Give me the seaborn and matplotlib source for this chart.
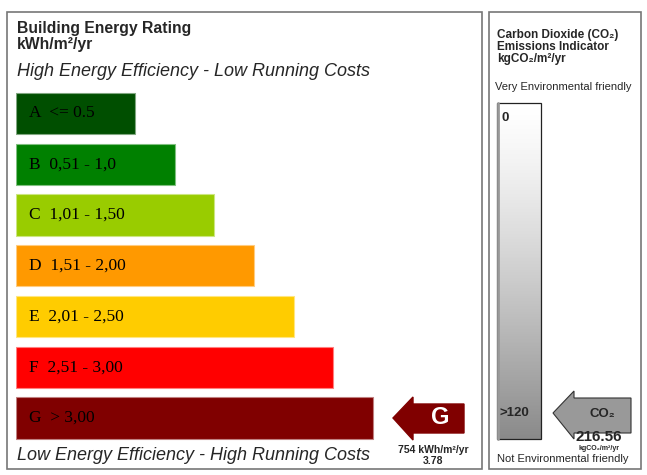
import matplotlib
matplotlib.use('Agg')
import matplotlib.pyplot as plt
from matplotlib.patches import Rectangle, Polygon
import seaborn as sns
import numpy as np
import pandas as pd

# 能效等级数据
grades = ['A', 'B', 'C', 'D', 'E', 'F', 'G']
ranges = ['<= 0.5', '0,51 - 1,0', '1,01 - 1,50', '1,51 - 2,00',
          '2,01 - 2,50', '2,51 - 3,00', '> 3,00']
bar_len = [3, 4, 5, 6, 7, 8, 9]
colors = ['#004f00', '#008000', '#99cc00', '#ff9900', '#ffcc00', '#ff0000', '#800000']

rating = 'G'
energy_text = '754 kWh/m²/yr'
energy_value = '3.78'
co2_value = '216.56'
co2_top = '0'
co2_bottom = '>120'

sns.set_theme(style='white')
plt.rcParams['font.family'] = ['Liberation Sans', 'DejaVu Sans']

W, H = 647, 475
fig = plt.figure(figsize=(W / 100, H / 100), dpi=100)
fig.patch.set_facecolor('white')

# 覆盖层：像素坐标
ov = fig.add_axes([0, 0, 1, 1])
ov.set_xlim(0, W)
ov.set_ylim(H, 0)
ov.axis('off')

# 等级条形图
px_unit = 39.67
ax_left, ax_right = 16, 482
ax_top, ax_bot = 88.1, 443.4
ax = fig.add_axes([ax_left / W, 1 - ax_bot / H, (ax_right - ax_left) / W, (ax_bot - ax_top) / H])
df = pd.DataFrame({'grade': grades, 'len': bar_len})
sns.barplot(data=df, x='len', y='grade', hue='grade', palette=colors, legend=False,
            orient='h', width=0.81, ax=ax, saturation=1, linewidth=0.8)
for p, c in zip(ax.patches, colors):
    p.set_edgecolor(sns.blend_palette([c, '#ffffff'], 3)[1])
ax.set_xlim(0, (ax_right - ax_left) / px_unit)
ax.set_ylim(6.5, -0.5)
ax.axis('off')
ax.patch.set_alpha(0)
for i, (g, r) in enumerate(zip(grades, ranges)):
    ax.text(0.33, i, f'{g}  {r}', va='center', ha='left', fontsize=12.5,
            family='Liberation Serif', color='black')

# 面板边框
ov.add_patch(Rectangle((7, 12), 475, 457, fill=False, edgecolor='#777777', lw=1.2))
ov.add_patch(Rectangle((489, 12), 152, 457, fill=False, edgecolor='#777777', lw=1.2))

# 左侧标题
ov.text(17, 28, 'Building Energy Rating', fontsize=11.3, fontweight='bold', va='center')
ov.text(17, 45, 'kWh/m²/yr', fontsize=11.3, fontweight='bold', va='center')
ov.text(17, 72, 'High Energy Efficiency - Low Running Costs', fontsize=13,
        style='italic', va='center')
ov.text(17, 456, 'Low Energy Efficiency - High Running Costs', fontsize=13,
        style='italic', va='center')

# 等级箭头
g_idx = grades.index(rating)
ov.add_patch(Polygon([(393, 418), (413, 397), (413, 404), (464, 404), (464, 433),
                      (413, 433), (413, 440)], closed=True,
                     facecolor=colors[g_idx], edgecolor=colors[g_idx]))
ov.text(440, 418, rating, color='white', fontsize=17, fontweight='bold',
        ha='center', va='center')
ov.text(433, 450, energy_text, fontsize=7.5, fontweight='bold', ha='center', va='center')
ov.text(433, 461, energy_value, fontsize=7.5, fontweight='bold', ha='center', va='center')

# 右侧 CO2 面板
ov.text(497, 35, 'Carbon Dioxide (CO₂)', fontsize=8.5, fontweight='bold', va='center')
ov.text(497, 47, 'Emissions Indicator', fontsize=8.5, fontweight='bold', va='center')
ov.text(497, 59, 'kgCO₂/m²/yr', fontsize=8.5, fontweight='bold', va='center')
ov.text(563, 87, 'Very Environmental friendly', fontsize=8, ha='center', va='center')

grad = np.linspace(0, 1, 256).reshape(-1, 1) ** 1.3
ov.imshow(grad, cmap=sns.blend_palette(['#ffffff', '#8a8a8a'], as_cmap=True),
          extent=[497, 541, 439, 103], aspect='auto', zorder=1)
ov.add_patch(Rectangle((497, 103), 44, 336, fill=False, edgecolor='#222222', lw=0.9, zorder=2))
ov.plot([497.5, 497.5], [103, 439], color='#999999', lw=2, zorder=3)
ov.text(502, 118, co2_top, fontsize=9.5, fontweight='bold', va='center', zorder=4)
ov.text(499, 413, co2_bottom, fontsize=9.5, fontweight='bold', va='center', zorder=4)

ov.add_patch(Polygon([(553, 413), (574, 391), (574, 398), (631, 398), (631, 433),
                      (574, 433), (574, 439)], closed=True,
                     facecolor='#999999', edgecolor='#333333', lw=0.8))
ov.text(602, 414, 'CO₂', fontsize=9.5, fontweight='bold', ha='center', va='center')
ov.text(599, 437, co2_value, fontsize=11, fontweight='bold', ha='center', va='center')
ov.text(599, 449, 'kgCO₂/m²/yr', fontsize=5, fontweight='bold', ha='center', va='center')
ov.text(563, 459, 'Not Environmental friendly', fontsize=8, ha='center', va='center')

fig.savefig('out.png', dpi=100)
